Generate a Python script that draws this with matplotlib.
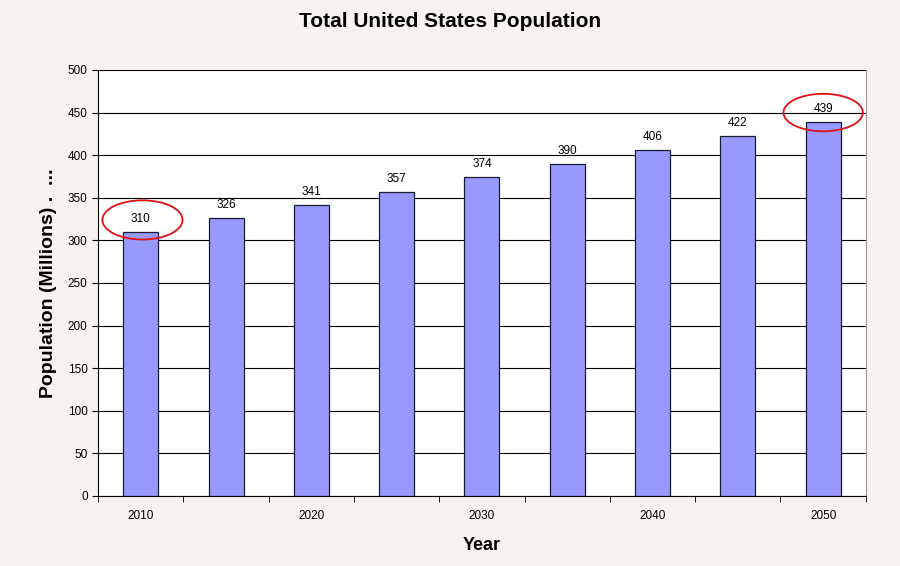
import numpy as np
import matplotlib.pyplot as plt
from matplotlib.patches import Ellipse

plt.rcParams['font.family'] = ['Liberation Sans', 'DejaVu Sans']

years = [2010, 2015, 2020, 2025, 2030, 2035, 2040, 2045, 2050]
population = [310, 326, 341, 357, 374, 390, 406, 422, 439]
yticks = np.arange(0, 501, 50)

fig = plt.figure(figsize=(9, 5.66), dpi=100, facecolor='#f7f4ef')
ax = fig.add_axes([0.109, 0.1237, 0.853, 0.7527])
ax.set_facecolor('white')

x = np.arange(len(years))
bars = ax.bar(x, population, width=0.41, color='#9999ff', edgecolor='#1a1a33',
              linewidth=0.9, zorder=3)
for xi, v in zip(x, population):
    ax.annotate(str(v), (xi, v), xytext=(0, 5), textcoords='offset points',
                ha='center', va='bottom', fontsize=8.5, zorder=5)

ax.set_xlim(-0.5, len(years) - 0.5)
ax.set_ylim(0, 500)
ax.set_yticks(yticks)
ax.tick_params(axis='y', labelsize=8.5, length=4, direction='out')
ax.yaxis.grid(True, color='black', linewidth=0.8, zorder=0)

# category boundaries carry the tick marks, every other year is labelled
ax.set_xticks(x[::2])
ax.set_xticklabels([str(y) for y in years[::2]], fontsize=8.5)
ax.tick_params(axis='x', which='major', length=0, pad=10)
ax.set_xticks(np.arange(-0.5, len(years), 1), minor=True)
ax.tick_params(axis='x', which='minor', length=4, direction='out')

for s in ['left', 'bottom']:
    ax.spines[s].set_color('black')
ax.spines['top'].set_visible(False)
ax.spines['right'].set_color('#999999')

ax.set_xlabel('Year', fontsize=13, fontweight='bold', labelpad=11)
ax.set_ylabel('Population (Millions) .  ...', fontsize=14, fontweight='bold', labelpad=8)
fig.suptitle('Total United States Population', fontsize=15, fontweight='bold', y=0.978)

ax.add_patch(Ellipse((0.02, 324), 0.94, 46, fill=False, edgecolor='#e01010',
                     linewidth=1.3, zorder=6, clip_on=False))
ax.add_patch(Ellipse((8.0, 450), 0.93, 44, fill=False, edgecolor='#e01010',
                     linewidth=1.3, zorder=6, clip_on=False))

fig.savefig('out.png', dpi=100, facecolor=fig.get_facecolor())
